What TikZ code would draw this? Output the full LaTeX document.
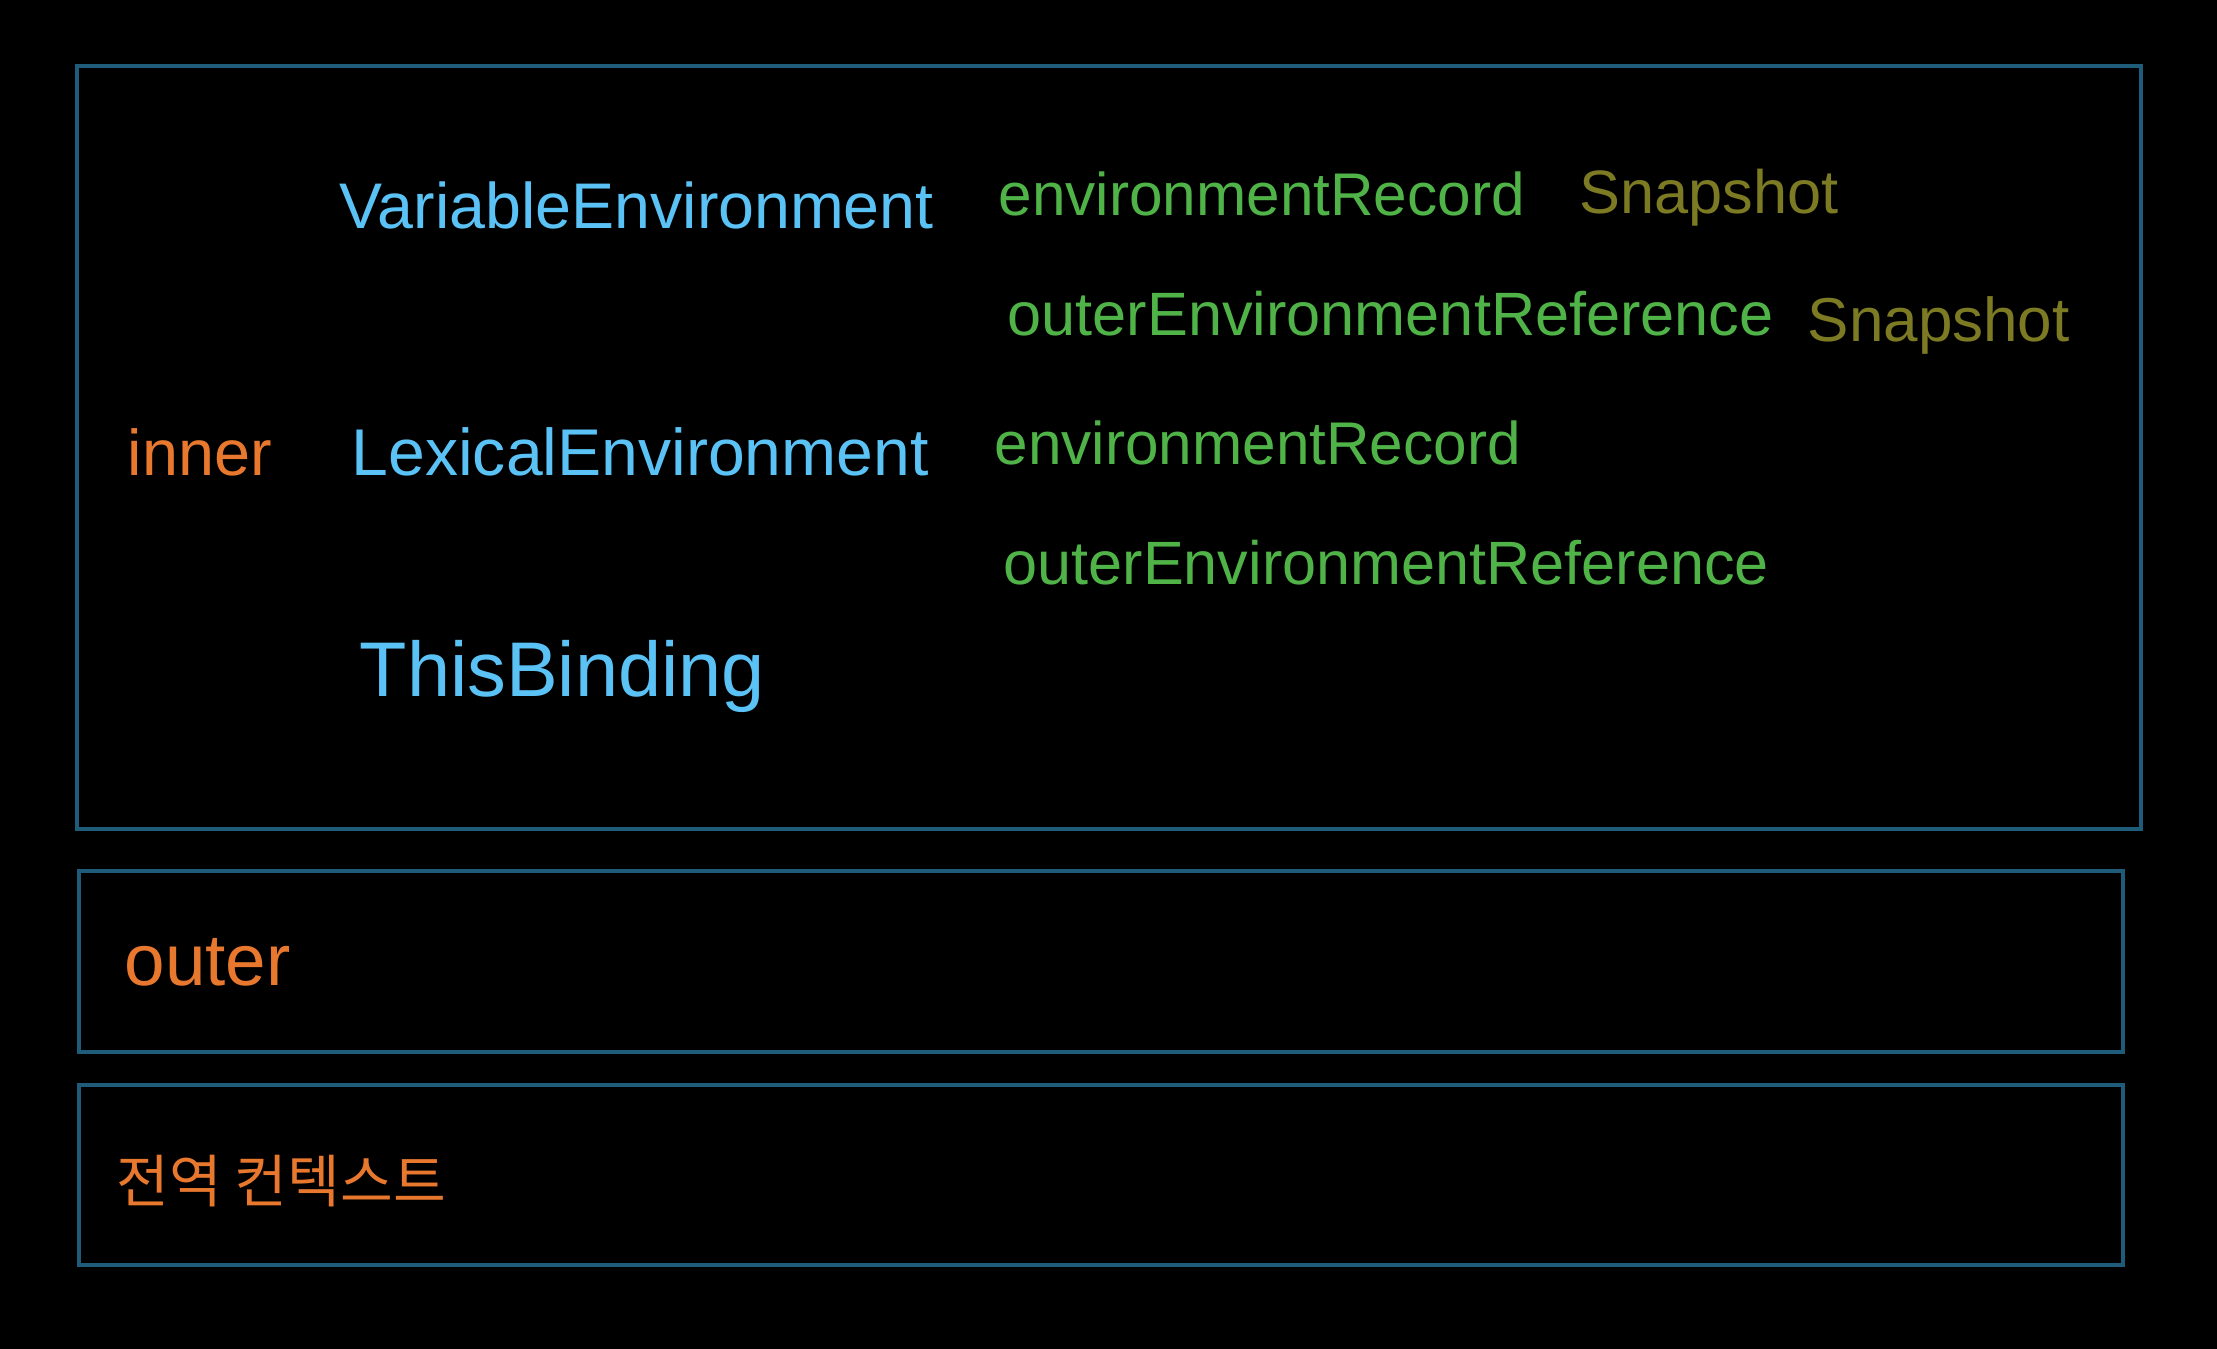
\documentclass[tikz,border=0pt]{standalone}
\usepackage{fontspec}
\setmainfont{Liberation Sans}
\newfontfamily\krfont{Noto Sans CJK KR}
\definecolor{bordercol}{HTML}{1E5C7A}
\definecolor{bluetxt}{HTML}{5BC2F5}
\definecolor{greentxt}{HTML}{4FB348}
\definecolor{olivetxt}{HTML}{7C7A22}
\definecolor{orangetxt}{HTML}{E8782E}
\tikzset{
  frame/.style={draw=bordercol, line width=1.3pt},
  lbl/.style={anchor=west, inner sep=0pt, font=\fontsize{17}{20}\selectfont},
  envname/.style={lbl, text=bluetxt},
  field/.style={lbl, text=greentxt},
  snap/.style={lbl, text=olivetxt},
  ctx/.style={lbl, text=orangetxt},
}
\newcommand{\fitw}[2]{\resizebox{#1}{!}{#2}}
\begin{document}
\begin{tikzpicture}[x=0.01cm, y=-0.01cm]
\fill[black] (0,0) rectangle (2217,1349);
\useasboundingbox (0,0) rectangle (2217,1349);
% boxes
\draw[frame] (77,66) rectangle (2141,829);
\draw[frame] (79,871) rectangle (2123,1052);
\draw[frame] (79,1085) rectangle (2123,1265);
% labels
\node[ctx] (inner) at (127,452) {\fitw{144\dimexpr0.01cm\relax}{inner}};
\node[ctx] (outer) at (124,962) {\fitw{166\dimexpr0.01cm\relax}{outer}};
\node[ctx] (global) at (116,1181) {\fitw{329\dimexpr0.01cm\relax}{\krfont 전역 컨텍스트}};
\node[envname] (ve) at (339,205) {\fitw{594\dimexpr0.01cm\relax}{VariableEnvironment}};
\node[envname] (le) at (351,452) {\fitw{577\dimexpr0.01cm\relax}{LexicalEnvironment}};
\node[envname] (tb) at (359,676) {\fitw{405\dimexpr0.01cm\relax}{ThisBinding}};
\node[field] (er1) at (998,194) {\fitw{526\dimexpr0.01cm\relax}{environmentRecord}};
\node[snap] (s1) at (1579,198) {\fitw{259\dimexpr0.01cm\relax}{Snapshot}};
\node[field] (oer1) at (1007,314) {\fitw{766\dimexpr0.01cm\relax}{outerEnvironmentReference}};
\node[snap] (s2) at (1807,325) {\fitw{262\dimexpr0.01cm\relax}{Snapshot}};
\node[field] (er2) at (994,443) {\fitw{526\dimexpr0.01cm\relax}{environmentRecord}};
\node[field] (oer2) at (1003,563) {\fitw{765\dimexpr0.01cm\relax}{outerEnvironmentReference}};
\end{tikzpicture}
\end{document}
